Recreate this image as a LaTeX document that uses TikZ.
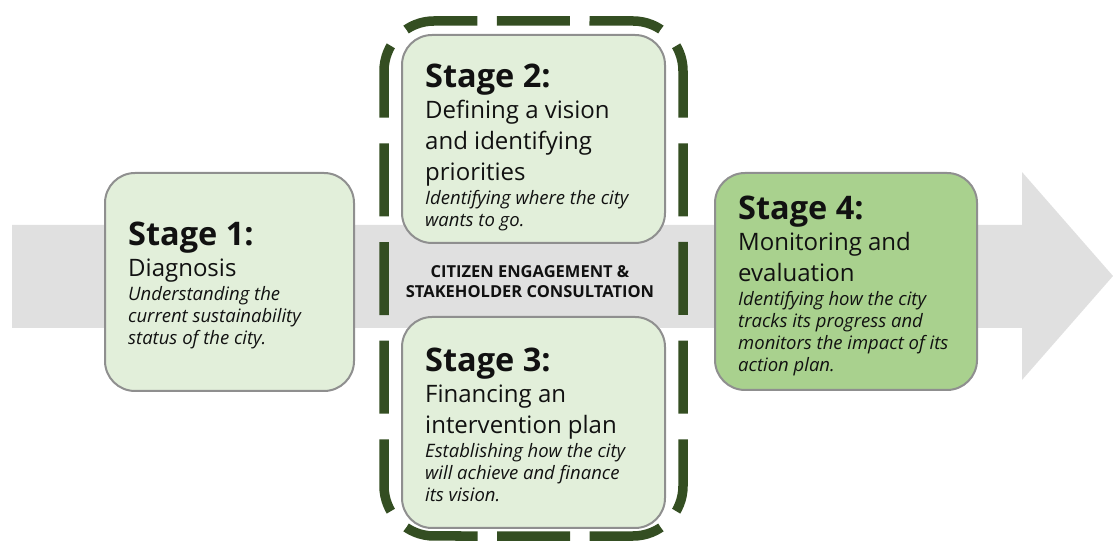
\documentclass[tikz,border=0pt]{standalone}
\usepackage{fontspec}
\setmainfont{Open Sans}
\definecolor{bandgray}{HTML}{E0E0E0}
\definecolor{lightgreen}{HTML}{E2EFDA}
\definecolor{midgreen}{HTML}{A9D18E}
\definecolor{darkgreen}{HTML}{344E22}
\definecolor{boxborder}{HTML}{8F8F8F}
\definecolor{txt}{HTML}{111111}
\newcommand{\stagetext}[3]{\vtop{\hsize=260pt\parindent=0pt\parskip=0pt\raggedright
 {\fontsize{32.5}{31}\bfseries\selectfont #1\par}
 {\fontsize{24}{31}\selectfont #2\par}
 \vspace{1.5pt}
 {\fontsize{18.5}{22}\itshape\selectfont #3\par}}}
\begin{document}
\begin{tikzpicture}[x=1pt,y=1pt,
  stagebox/.style={draw=boxborder, line width=2pt, rounded corners=30pt, inner sep=0pt},
  stagetxt/.style={anchor=base west, inner sep=0pt, text=txt},
  frameside/.style={draw=darkgreen, line width=9.5pt}]
\useasboundingbox (0,0) rectangle (1113,543);
% background arrow
\fill[bandgray] (12,215) -- (1022,215) -- (1022,163) -- (1113,267) -- (1022,371) -- (1022,318) -- (12,318) -- cycle;
% dashed frame (each side with its own centred dash pattern)
\draw[frameside, dash pattern=on 73pt off 19.5pt, dash phase=82.75pt]
  (398.64,507.36) arc[start angle=135,end angle=90,radius=50] -- (633,522) arc[start angle=90,end angle=45,radius=50];
\draw[frameside, dash pattern=on 73pt off 25.7pt, dash phase=85.85pt]
  (668.36,507.36) arc[start angle=45,end angle=0,radius=50] -- (683,57) arc[start angle=0,end angle=-45,radius=50];
\draw[frameside, dash pattern=on 73pt off 19.5pt, dash phase=82.75pt]
  (668.36,21.64) arc[start angle=-45,end angle=-90,radius=50] -- (434,7) arc[start angle=-90,end angle=-135,radius=50];
\draw[frameside, dash pattern=on 73pt off 25.7pt, dash phase=85.85pt]
  (398.64,21.64) arc[start angle=-135,end angle=-180,radius=50] -- (384,472) arc[start angle=180,end angle=135,radius=50];
% boxes
\node[stagebox, fill=lightgreen, minimum width=249pt, minimum height=218pt] (s1) at (229.5,261) {};
\node[stagebox, fill=lightgreen, minimum width=263pt, minimum height=208pt] (s2) at (533.5,404) {};
\node[stagebox, fill=lightgreen, minimum width=263pt, minimum height=211pt] (s3) at (533.5,120.5) {};
\node[stagebox, fill=midgreen, minimum width=262pt, minimum height=217pt] (s4) at (846,261.5) {};
% texts
\node[stagetxt] (s1t) at (128,297) {\stagetext{Stage 1:}{Diagnosis}{Understanding the\\current sustainability\\status of the city.}};
\node[stagetxt] (s2t) at (425,455) {\stagetext{Stage 2:}{Defining a vision\\and identifying\\priorities}{Identifying where the city\\wants to go.}};
\node[stagetxt] (s3t) at (425,171) {\stagetext{Stage 3:}{Financing an\\intervention plan}{Establishing how the city\\will achieve and finance\\its vision.}};
\node[stagetxt] (s4t) at (738,323) {\stagetext{Stage 4:}{Monitoring and\\evaluation}{Identifying how the city\\tracks its progress and\\monitors the impact of its\\action plan.}};
\node[align=center, inner sep=0pt, text=txt, font=\fontsize{16.5}{20}\bfseries\selectfont, anchor=base] (cit) at (530,245) {CITIZEN ENGAGEMENT \&\\STAKEHOLDER CONSULTATION};
\end{tikzpicture}
\end{document}
